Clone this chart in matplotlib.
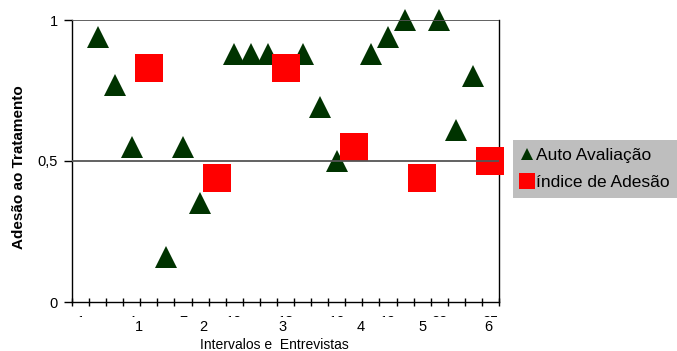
import matplotlib
matplotlib.use('Agg')
import matplotlib.pyplot as plt
from matplotlib.lines import Line2D
from matplotlib.patches import Rectangle

plt.rcParams['font.family'] = ['Liberation Sans', 'DejaVu Sans']

# categories along the x axis (0..24), triangles = self evaluation, squares = adherence index
auto_x = [1, 2, 3, 5, 6, 7, 9, 10, 11, 13, 14, 15, 17, 18, 19, 21, 22, 23]
auto_y = [0.94, 0.77, 0.55, 0.16, 0.55, 0.35, 0.88, 0.88, 0.88, 0.88, 0.69, 0.50,
          0.88, 0.94, 1.0, 1.0, 0.61, 0.80]
indice_x = [4, 8, 12, 16, 20, 24]
indice_y = [0.83, 0.44, 0.83, 0.55, 0.44, 0.50]

interval_labels = ['1', '2', '3', '4', '5', '6']
interval_pos = [3.4, 7.2, 11.8, 16.4, 20.0, 23.9]
entrevista_labels = ['1', '4', '7', '10', '13', '16', '19', '22', '25']
entrevista_pos = [0, 3, 6, 9, 12, 15, 18, 21, 24]

green = '#003300'
red = '#ff0000'

fig = plt.figure(figsize=(6.77, 3.51), dpi=100)
ax = fig.add_axes([72/677, 1-302/351, 427/677, 282/351])

ax.plot(auto_x, auto_y, ls='none', marker='^', ms=16, color=green, mew=0,
        clip_on=False, zorder=2.6)
ax.plot(indice_x, indice_y, ls='none', marker='s', ms=20, color=red, mew=0,
        clip_on=False, zorder=2.6)

for yv in (0.5, 1.0):
    ax.axhline(yv, color='#555555', lw=1.3, zorder=3)

ax.set_xlim(-0.5, 24.5)
ax.set_ylim(0, 1)
ax.spines['top'].set_visible(False)
for s in ('left', 'bottom', 'right'):
    ax.spines[s].set_color('black')
    ax.spines[s].set_linewidth(1)

ax.set_yticks([0, 0.5, 1])
ax.set_yticklabels(['0', '0,5', '1'], fontsize=10.5)
ax.tick_params(axis='y', direction='out', length=6, width=1, pad=4)
ax.set_xticks([k - 0.5 for k in range(26)])
ax.set_xticklabels([])
ax.tick_params(axis='x', direction='inout', length=6, width=1)

# interview labels are cut off in the original: only their top edge shows
tr = ax.get_xaxis_transform()
for lab, p in zip(entrevista_labels, entrevista_pos):
    ax.text(p, -(326-302)/282, lab, transform=tr, ha='center', va='baseline',
            fontsize=10.5, zorder=1)
fig.patches.append(Rectangle((0, 12/351), 1, (351-317)/351 - 12/351,
                             transform=fig.transFigure, facecolor='white',
                             edgecolor='none', zorder=2))
for lab, p in zip(interval_labels, interval_pos):
    t = fig.text(0, 0, lab, ha='center', va='baseline', fontsize=10.5, zorder=3)
    t.set_transform(tr)
    t.set_position((p, -(331-302)/282))

fig.text(19.5/677, 1-167/351, 'Adesão ao Tratamento', rotation=90, ha='center',
         va='center', fontsize=11, fontweight='bold')
fig.text(274/677, 1-345/351, 'Intervalos e  Entrevistas', ha='center', va='center',
         fontsize=10, zorder=3)

handles = [Line2D([], [], ls='none', marker='^', ms=9, color=green, mew=0),
           Line2D([], [], ls='none', marker='s', ms=12, color=red, mew=0)]
fig.legend(handles, ['Auto Avaliação', 'índice de Adesão'], loc='upper left',
           bbox_to_anchor=(513/677, 1-140/351), fontsize=12.5, frameon=True,
           facecolor='#bebebe', edgecolor='none', framealpha=1, fancybox=False,
           borderpad=0.45, handlelength=0.7, handletextpad=0.15, labelspacing=0.7,
           borderaxespad=0)

fig.savefig('out.png', dpi=100)
